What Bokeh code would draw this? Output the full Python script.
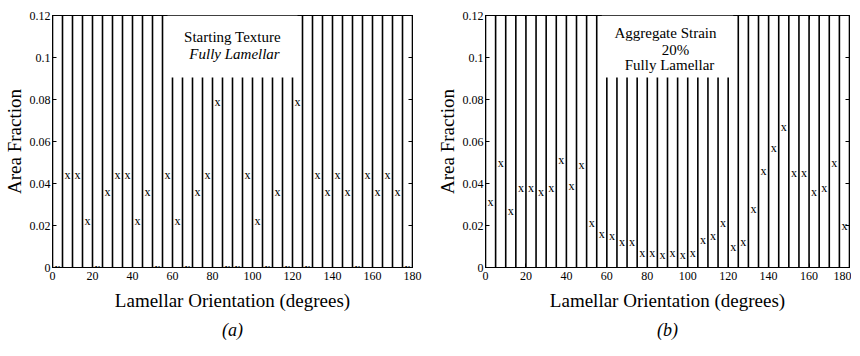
from bokeh.plotting import figure
from bokeh.models import (LinearAxis, BoxAnnotation, Label, Title, FixedTicker,
                          ColumnDataSource, Range1d)
from bokeh.layouts import row
from bokeh.embed import file_html
from bokeh.resources import INLINE
from bokeh.core.properties import value

# ---------------- data ----------------
bin_edges = [0, 5, 10, 15, 20, 25, 30, 35, 40, 45, 50, 55, 60, 65, 70, 75, 80, 85, 90,
             95, 100, 105, 110, 115, 120, 125, 130, 135, 140, 145, 150, 155, 160, 165,
             170, 175, 180]
bin_centers = [2.5, 7.5, 12.5, 17.5, 22.5, 27.5, 32.5, 37.5, 42.5, 47.5, 52.5, 57.5,
               62.5, 67.5, 72.5, 77.5, 82.5, 87.5, 92.5, 97.5, 102.5, 107.5, 112.5, 117.5,
               122.5, 127.5, 132.5, 137.5, 142.5, 147.5, 152.5, 157.5, 162.5, 167.5,
               172.5, 177.5]
fraction_a = [0, 0.044, 0.044, 0.022, 0, 0.036, 0.044, 0.044, 0.022, 0.036,
              0, 0.044, 0.022, 0, 0.036, 0.044, 0.079, 0, 0, 0.044,
              0.022, 0, 0.036, 0, 0.079, 0, 0.044, 0.036, 0.044, 0.036,
              0, 0.044, 0.036, 0.044, 0.036, 0]
fraction_b = [0.031, 0.050, 0.027, 0.038, 0.038, 0.036, 0.038, 0.051, 0.039, 0.049,
              0.021, 0.016, 0.015, 0.012, 0.012, 0.007, 0.007, 0.006, 0.007, 0.006,
              0.007, 0.013, 0.015, 0.021, 0.010, 0.012, 0.028, 0.046, 0.057, 0.067,
              0.045, 0.045, 0.036, 0.038, 0.050, 0.020]
x_ticks = [0, 20, 40, 60, 80, 100, 120, 140, 160, 180]
y_ticks = [0, 0.02, 0.04, 0.06, 0.08, 0.1, 0.12]
y_tick_labels = ["0", "0.02", "0.04", "0.06", "0.08", "0.1", "0.12"]
X_MAX = 180
Y_MAX = 0.12

FONT = "Liberation Serif"


def style_axis(ax, show_labels=True, label_standoff=4, title_standoff=5):
    ax.major_tick_in = 4
    ax.major_tick_out = 0
    ax.minor_tick_in = 0
    ax.minor_tick_out = 0
    ax.axis_line_color = "black"
    ax.major_tick_line_color = "black"
    ax.major_label_text_font = FONT
    ax.major_label_text_color = "black"
    ax.axis_label_text_font = FONT
    ax.axis_label_text_font_style = "normal"
    ax.axis_label_text_color = "black"
    ax.axis_label_text_font_size = "19px"
    ax.major_label_text_font_size = "12px"
    if show_labels:
        ax.major_label_standoff = label_standoff
        ax.axis_label_standoff = title_standoff
    else:
        ax.major_label_standoff = 0


def make_panel(values, legend, caption, left_b, right_b, frame_w):
    p = figure(frame_width=frame_w, frame_height=252,
               x_range=Range1d(0, X_MAX), y_range=Range1d(0, Y_MAX),
               output_backend="svg", toolbar_location=None,
               min_border_left=left_b, min_border_right=right_b,
               min_border_top=15, min_border_bottom=80,
               background_fill_color="white", border_fill_color="white",
               outline_line_color="black", outline_line_width=1)
    p.grid.visible = False

    edges = ColumnDataSource(dict(e=bin_edges))
    p.segment(x0="e", y0=0, x1="e", y1=Y_MAX, source=edges,
              line_color="black", line_width=1.6)

    pts = ColumnDataSource(dict(x=bin_centers, y=values))
    p.text(x="x", y="y", text=value("x"), source=pts,
           text_font=value(FONT), text_font_size="12px",
           text_align="center", text_baseline="middle", text_color="black")

    p.xaxis.ticker = FixedTicker(ticks=x_ticks)
    p.yaxis.ticker = FixedTicker(ticks=y_ticks)
    p.yaxis.major_label_overrides = dict(zip(y_ticks, y_tick_labels))
    p.xaxis.axis_label = "Lamellar Orientation (degrees)"
    p.yaxis.axis_label = "Area Fraction"
    style_axis(p.xaxis[0], label_standoff=4, title_standoff=7)
    style_axis(p.yaxis[0], label_standoff=2, title_standoff=2)

    top = LinearAxis(ticker=FixedTicker(ticks=x_ticks))
    style_axis(top, show_labels=False)
    top.major_label_overrides = {t: "" for t in x_ticks}
    p.add_layout(top, "above")
    right = LinearAxis(ticker=FixedTicker(ticks=y_ticks))
    style_axis(right, show_labels=False)
    right.major_label_overrides = {t: "" for t in y_ticks}
    p.add_layout(right, "right")

    box = BoxAnnotation(left=57.5, right=122.5, bottom=0.0905, top=Y_MAX,
                        fill_color="white", fill_alpha=1.0, line_color=None)
    p.add_layout(box)
    for text, x, y, style in legend:
        p.add_layout(Label(x=x, y=y, text=text, text_align="center",
                           text_baseline="middle", text_font=FONT,
                           text_font_size="15px", text_font_style=style,
                           text_color="black"))

    p.add_layout(Title(text=caption, align="center", text_font=FONT,
                       text_font_size="18px", text_font_style="italic",
                       text_color="black", standoff=9), "below")
    return p


legend_a = [("Starting Texture", 90, 0.110, "normal"),
            ("Fully Lamellar", 91, 0.1015, "italic")]
legend_b = [("Aggregate Strain", 89, 0.1118, "normal"),
            ("20%", 94, 0.1038, "normal"),
            ("Fully Lamellar", 91, 0.0966, "normal")]

pa = make_panel(fraction_a, legend_a, "(a)", 46, 17, 360)
pb = make_panel(fraction_b, legend_b, "(b)", 56, 2, 364)

layout = row(pa, pb)
open("out.html", "w").write(file_html(layout, INLINE))
